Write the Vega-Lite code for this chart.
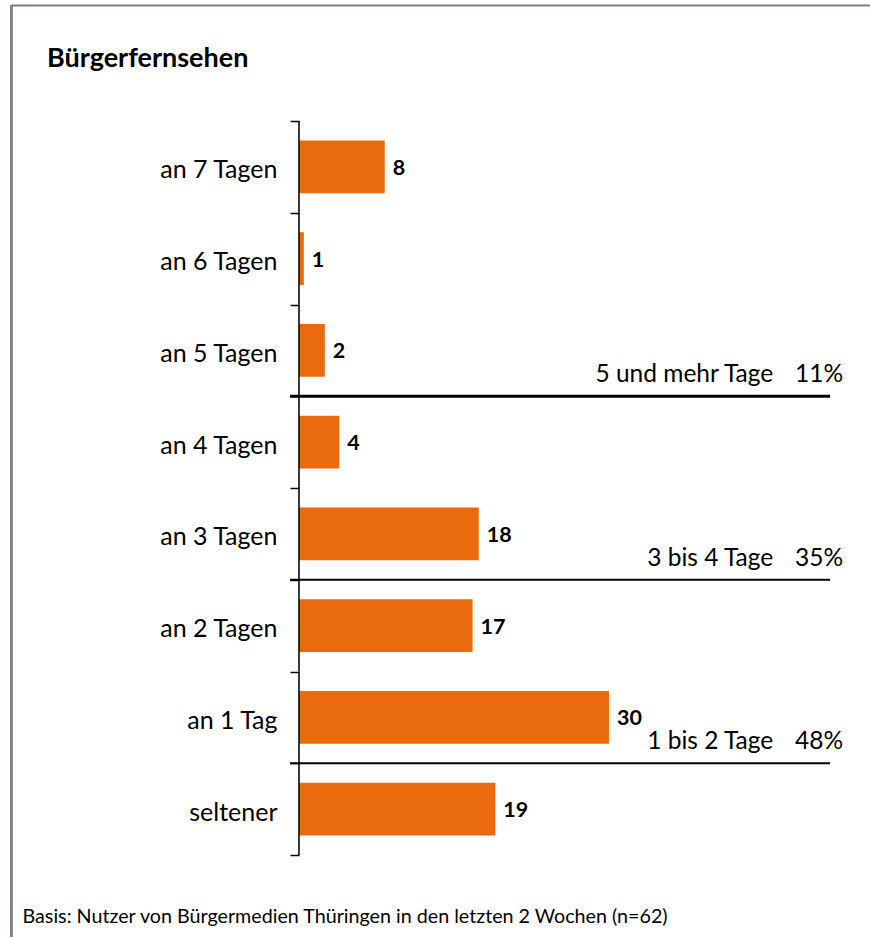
{
  "$schema": "https://vega.github.io/schema/vega-lite/v6.json",
  "autosize": {"type": "none"},
  "padding": {"left": 11, "top": 5, "right": 0, "bottom": 0},
  "width": 859,
  "height": 932,
  "background": "white",
  "config": {
    "view": {"stroke": null},
    "font": "Lato"
  },
  "title": {
    "text": "Bürgerfernsehen",
    "anchor": "start",
    "frame": "group",
    "font": "Lato",
    "fontSize": 27,
    "fontWeight": "bold",
    "color": "black",
    "baseline": "alphabetic",
    "offset": 0,
    "dx": 36,
    "dy": 101
  },
  "datasets": {
    "bars": [
      {"cat": "an 7 Tagen", "value": 8.3, "label": "8"},
      {"cat": "an 6 Tagen", "value": 0.47, "label": "1"},
      {"cat": "an 5 Tagen", "value": 2.5, "label": "2"},
      {"cat": "an 4 Tagen", "value": 3.9, "label": "4"},
      {"cat": "an 3 Tagen", "value": 17.4, "label": "18"},
      {"cat": "an 2 Tagen", "value": 16.8, "label": "17"},
      {"cat": "an 1 Tag", "value": 30, "label": "30"},
      {"cat": "seltener", "value": 19, "label": "19"}
    ],
    "groups": [
      {"sep": "an 4 Tagen", "group": "5 und mehr Tage", "pct": "11%"},
      {"sep": "an 2 Tagen", "group": "3 bis 4 Tage", "pct": "35%"},
      {"sep": "seltener", "group": "1 bis 2 Tage", "pct": "48%"}
    ]
  },
  "layer": [
    {
      "data": {"name": "bars"},
      "mark": {"type": "bar", "color": "#EA6B0D", "height": {"band": 0.575}},
      "encoding": {
        "x": {
          "field": "value",
          "type": "quantitative",
          "scale": {"domain": [-27.87, 55.26], "nice": false, "zero": false},
          "axis": {
            "orient": "top",
            "domain": true,
            "domainColor": "#7a7f86",
            "domainWidth": 2,
            "ticks": false,
            "labels": false,
            "grid": false,
            "title": null
          }
        },
        "x2": {"datum": 0},
        "y": {
          "field": "cat",
          "type": "nominal",
          "sort": null,
          "scale": {
            "domain": ["an 7 Tagen", "an 6 Tagen", "an 5 Tagen", "an 4 Tagen", "an 3 Tagen", "an 2 Tagen", "an 1 Tag", "seltener"],
            "paddingInner": 0,
            "paddingOuter": 0,
            "range": [116, 850]
          },
          "axis": {
            "orient": "left",
            "offset": -288,
            "domain": false,
            "grid": false,
            "ticks": true,
            "tickBand": "extent",
            "tickSize": 9,
            "tickWidth": 1.5,
            "tickColor": "black",
            "labelFont": "Lato",
            "labelFontSize": 25,
            "labelColor": "black",
            "labelPadding": 13,
            "labelOffset": 3,
            "title": "Basis: Nutzer von Bürgermedien Thüringen in den letzten 2 Wochen (n=62)",
            "titleAngle": 0,
            "titleAlign": "left",
            "titleBaseline": "alphabetic",
            "titleFont": "Lato",
            "titleFontSize": 19.7,
            "titleFontWeight": "normal",
            "titleColor": "black",
            "titleX": -277,
            "titleY": 917
          }
        }
      }
    },
    {
      "data": {"name": "bars"},
      "mark": {"type": "rule", "color": "#7a7f86", "strokeWidth": 2},
      "encoding": {
        "x": {"datum": -27.85, "type": "quantitative"}
      }
    },
    {
      "data": {"name": "bars"},
      "mark": {"type": "bar", "color": "black"},
      "encoding": {
        "x": {"datum": -0.075, "type": "quantitative"},
        "x2": {"datum": 0.075},
        "y": {"field": "cat", "type": "nominal", "sort": null}
      }
    },
    {
      "data": {"name": "bars"},
      "mark": {"type": "text", "align": "left", "baseline": "middle", "dx": 8, "dy": 2, "fontSize": 21.5, "fontWeight": "bold", "font": "Lato", "color": "black"},
      "encoding": {
        "x": {"field": "value", "type": "quantitative"},
        "y": {"field": "cat", "type": "nominal", "sort": null},
        "text": {"field": "label"}
      }
    },
    {
      "data": {"name": "groups"},
      "mark": {"type": "rule", "color": "black"},
      "encoding": {
        "x": {"datum": -0.87, "type": "quantitative"},
        "x2": {"datum": 51.4},
        "y": {"field": "sep", "type": "nominal", "sort": null, "bandPosition": 0},
        "strokeWidth": {"condition": {"test": "datum.sep === 'an 4 Tagen'", "value": 2.8}, "value": 2}
      }
    },
    {
      "data": {"name": "groups"},
      "mark": {"type": "text", "align": "right", "baseline": "alphabetic", "dy": -14, "fontSize": 24.5, "font": "Lato", "color": "black"},
      "encoding": {
        "x": {"datum": 45.9, "type": "quantitative"},
        "y": {"field": "sep", "type": "nominal", "sort": null, "bandPosition": 0},
        "text": {"field": "group"}
      }
    },
    {
      "data": {"name": "groups"},
      "mark": {"type": "text", "align": "right", "baseline": "alphabetic", "dy": -14, "fontSize": 24.5, "font": "Lato", "color": "black"},
      "encoding": {
        "x": {"datum": 52.66, "type": "quantitative"},
        "y": {"field": "sep", "type": "nominal", "sort": null, "bandPosition": 0},
        "text": {"field": "pct"}
      }
    }
  ]
}
